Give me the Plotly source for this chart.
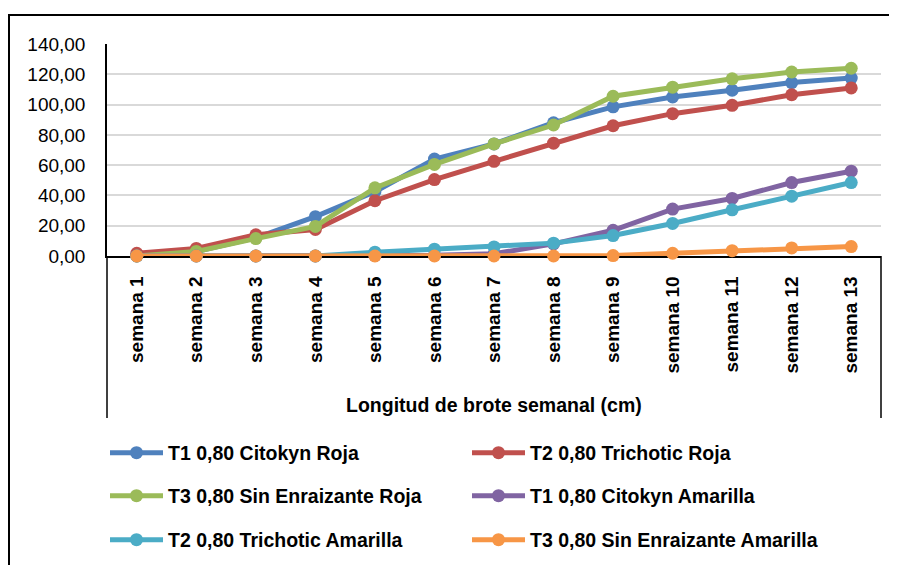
"""Longitud de brote semanal - recreated with plotly."""

import plotly.graph_objects as go

weeks = [f"semana {i}" for i in range(1, 14)]

t1_roja = [0.5, 3.0, 12.0, 26.0, 42.5, 64.0, 74.0, 88.0, 98.5, 105.0, 109.5, 114.5, 117.5]
t2_roja = [1.8, 5.0, 14.0, 17.5, 36.5, 50.5, 62.5, 74.5, 86.0, 94.0, 99.5, 106.5, 111.0]
t3_roja = [0.0, 3.0, 11.5, 19.5, 45.0, 60.5, 74.0, 86.5, 105.5, 111.5, 117.0, 121.5, 124.0]
t1_amarilla = [0.0, 0.0, 0.0, 0.0, 0.3, 0.5, 1.5, 8.0, 17.0, 31.0, 38.0, 48.5, 56.0]
t2_amarilla = [0.0, 0.0, 0.0, 0.0, 2.5, 4.5, 6.0, 8.5, 13.5, 21.5, 30.5, 39.5, 48.5]
t3_amarilla = [0.0, 0.0, 0.0, 0.0, 0.0, 0.0, 0.0, 0.0, 0.3, 1.8, 3.5, 5.3, 6.2]

series = [
    ("T1 0,80 Citokyn Roja", t1_roja, "#4F81BD", "legend"),
    ("T2 0,80 Trichotic Roja", t2_roja, "#C0504D", "legend"),
    ("T3 0,80 Sin Enraizante Roja", t3_roja, "#9BBB59", "legend2"),
    ("T1 0,80 Citokyn Amarilla", t1_amarilla, "#8064A2", "legend2"),
    ("T2 0,80 Trichotic Amarilla", t2_amarilla, "#4BACC6", "legend3"),
    ("T3 0,80 Sin Enraizante Amarilla", t3_amarilla, "#F79646", "legend3"),
]

FONT = "Liberation Sans, Arial, sans-serif"

# the page adds an 8px body margin, so the figure is sized to fit the window
OFF = 8
W, H = 897 - OFF, 565 - OFF
# plot area on the page: x 107..881, y 44..256
L, R, T, B = 107 - OFF, 897 - 881, 44 - OFF, 565 - 256
PW, PH = W - L - R, H - T - B


def px_x(x):
    return (x - OFF - L) / PW


def px_y(y):
    return (H - B - (y - OFF)) / PH


fig = go.Figure()
for name, values, color, leg in series:
    fig.add_trace(
        go.Scatter(
            x=weeks,
            y=values,
            name=name,
            mode="lines+markers",
            line=dict(color=color, width=5),
            marker=dict(color=color, size=13),
            cliponaxis=False,
            legend=leg,
        )
    )

legend_common = dict(
    orientation="h",
    entrywidth=294,
    entrywidthmode="pixels",
    itemwidth=53,
    xanchor="left",
    yanchor="middle",
    x=px_x(105),
    font=dict(family=FONT, size=19.5, color="#000000", weight="bold"),
    bgcolor="rgba(0,0,0,0)",
    traceorder="normal",
)

fig.update_layout(
    width=W,
    height=H,
    margin=dict(l=L, r=R, t=T, b=B, autoexpand=False),
    paper_bgcolor="white",
    plot_bgcolor="white",
    separators=",.",
    showlegend=True,
    legend=dict(**legend_common, y=px_y(453)),
    legend2=dict(**legend_common, y=px_y(496)),
    legend3=dict(**legend_common, y=px_y(540)),
    xaxis=dict(
        type="category",
        range=[-0.5, 12.5],
        showgrid=False,
        showline=True,
        linecolor="#000000",
        linewidth=1.5,
        layer="below traces",
        tickangle=-90,
        ticks="",
        ticklabelstandoff=11,
        automargin=False,
        tickfont=dict(family=FONT, size=19, color="#000000", weight="bold"),
    ),
    yaxis=dict(
        range=[0, 140],
        dtick=20,
        tickformat=".2f",
        showgrid=True,
        gridcolor="#D9D9D9",
        gridwidth=1.5,
        showline=True,
        linecolor="#000000",
        linewidth=1.5,
        layer="below traces",
        zeroline=False,
        ticks="",
        ticklabelstandoff=16,
        automargin=False,
        tickfont=dict(family=FONT, size=19, color="#000000"),
    ),
    shapes=[
        # outer chart border
        dict(type="rect", xref="paper", yref="paper",
             x0=px_x(9), x1=px_x(920), y0=px_y(600), y1=px_y(15),
             line=dict(color="#000000", width=2)),
        # category axis box lines
        dict(type="line", xref="paper", yref="paper",
             x0=0, x1=0, y0=0, y1=px_y(418),
             line=dict(color="#000000", width=1.5)),
        dict(type="line", xref="paper", yref="paper",
             x0=1, x1=1, y0=0, y1=px_y(418),
             line=dict(color="#000000", width=1.5)),
    ],
    annotations=[
        dict(text="Longitud de brote semanal (cm)", xref="paper", yref="paper",
             x=0.5, y=px_y(405), xanchor="center", yanchor="middle", showarrow=False,
             font=dict(family=FONT, size=19.5, color="#000000", weight="bold")),
    ],
)

fig.write_html("out.html")
